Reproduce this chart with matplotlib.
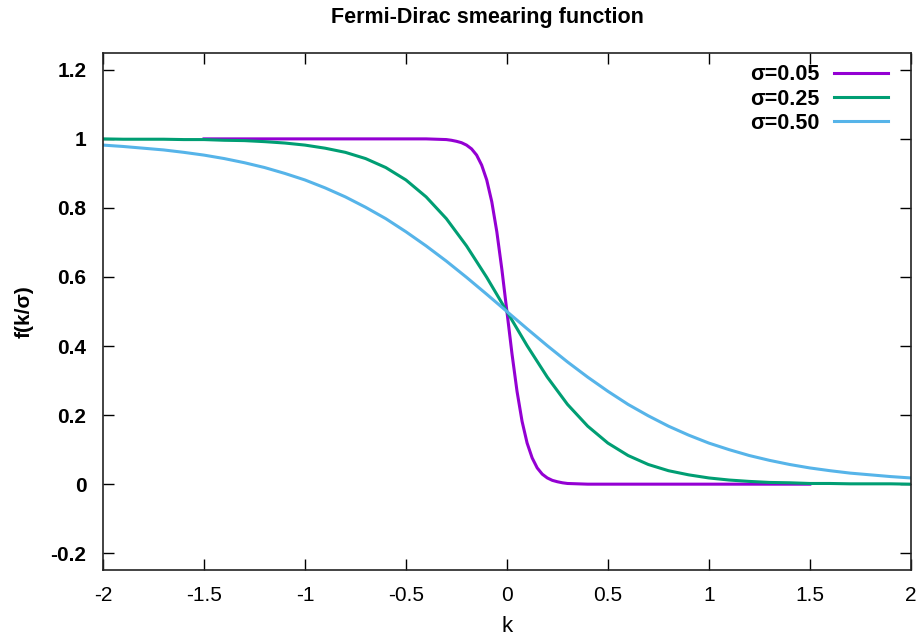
import matplotlib
matplotlib.use("Agg")
import matplotlib.pyplot as plt

plt.rcParams["font.family"] = ["Liberation Sans", "DejaVu Sans"]

# occupation values for three smearing widths
k_sharp = [-1.5, -0.5, -0.4, -0.35, -0.3, -0.275, -0.25, -0.225, -0.2, -0.175, -0.15, -0.125,
           -0.1, -0.075, -0.05, -0.025, 0.0, 0.025, 0.05, 0.075, 0.1, 0.125, 0.15, 0.175,
           0.2, 0.225, 0.25, 0.275, 0.3, 0.35, 0.4, 0.5, 1.5]
f_sharp = [1.0, 1.0, 1.0, 0.999, 0.998, 0.996, 0.993, 0.989, 0.982, 0.971, 0.953, 0.924,
           0.881, 0.818, 0.731, 0.622, 0.5, 0.378, 0.269, 0.182, 0.119, 0.076, 0.047, 0.029,
           0.018, 0.011, 0.007, 0.004, 0.002, 0.001, 0.0, 0.0, 0.0]

k_grid = [-2.0, -1.9, -1.8, -1.7, -1.6, -1.5, -1.4, -1.3, -1.2, -1.1, -1.0, -0.9, -0.8, -0.7,
          -0.6, -0.5, -0.4, -0.3, -0.2, -0.1, 0.0, 0.1, 0.2, 0.3, 0.4, 0.5, 0.6, 0.7, 0.8,
          0.9, 1.0, 1.1, 1.2, 1.3, 1.4, 1.5, 1.6, 1.7, 1.8, 1.9, 2.0]
f_mid = [1.0, 0.999, 0.999, 0.999, 0.998, 0.998, 0.996, 0.995, 0.992, 0.988, 0.982, 0.973,
         0.961, 0.943, 0.917, 0.881, 0.832, 0.769, 0.690, 0.599, 0.5, 0.401, 0.310, 0.231,
         0.168, 0.119, 0.083, 0.057, 0.039, 0.027, 0.018, 0.012, 0.008, 0.005, 0.004, 0.002,
         0.002, 0.001, 0.001, 0.001, 0.0]
f_wide = [0.982, 0.978, 0.973, 0.968, 0.961, 0.953, 0.943, 0.931, 0.917, 0.900, 0.881, 0.858,
          0.832, 0.802, 0.769, 0.731, 0.690, 0.646, 0.599, 0.550, 0.5, 0.450, 0.401, 0.354,
          0.310, 0.269, 0.231, 0.198, 0.168, 0.142, 0.119, 0.100, 0.083, 0.069, 0.057, 0.047,
          0.039, 0.032, 0.027, 0.022, 0.018]

labels = ["σ=0.05", "σ=0.25", "σ=0.50"]
colors = ["#9400d3", "#009e73", "#56b4e9"]

xticks = [-2, -1.5, -1, -0.5, 0, 0.5, 1, 1.5, 2]
xticklabels = ["-2", "-1.5", "-1", "-0.5", "0", "0.5", "1", "1.5", "2"]
yticks = [-0.2, 0, 0.2, 0.4, 0.6, 0.8, 1, 1.2]
yticklabels = ["-0.2", "0", "0.2", "0.4", "0.6", "0.8", "1", "1.2"]

fig = plt.figure(figsize=(9.2, 6.41), dpi=100)
ax = fig.add_axes([0.112, 0.110, 0.878, 0.808])

ax.plot(k_sharp, f_sharp, color=colors[0], lw=2.2, label=labels[0])
ax.plot(k_grid, f_mid, color=colors[1], lw=2.2, label=labels[1])
ax.plot(k_grid, f_wide, color=colors[2], lw=2.2, label=labels[2])

ax.set_xlim(-2, 2)
ax.set_ylim(-0.25, 1.25)
ax.set_xticks(xticks, xticklabels)
ax.set_yticks(yticks, yticklabels)
ax.tick_params(direction="in", length=8, width=1, top=True, right=True, labelsize=15)
ax.tick_params(axis="x", pad=11)
ax.tick_params(axis="y", pad=12)
for t in ax.get_yticklabels():
    t.set_fontweight("bold")
for s in ax.spines.values():
    s.set_linewidth(1.2)
    s.set_color("#222222")

ax.set_xlabel("k", fontsize=16, labelpad=8)
ax.set_ylabel("f(k/σ)", fontsize=15, fontweight="bold", labelpad=12)
fig.text(487 / 920, 1 - 18 / 641, "Fermi-Dirac smearing function", fontsize=15.5,
         fontweight="bold", ha="center", va="center")

# key in the top right corner, text before sample line
leg = ax.legend(loc="upper right", bbox_to_anchor=(0.983, 0.994), frameon=False,
                markerfirst=False, prop={"size": 15.5, "weight": "bold"},
                handlelength=2.55, handletextpad=0.65, labelspacing=0.15,
                borderaxespad=0.0, borderpad=0.4)

fig.savefig("out.png", dpi=100)
